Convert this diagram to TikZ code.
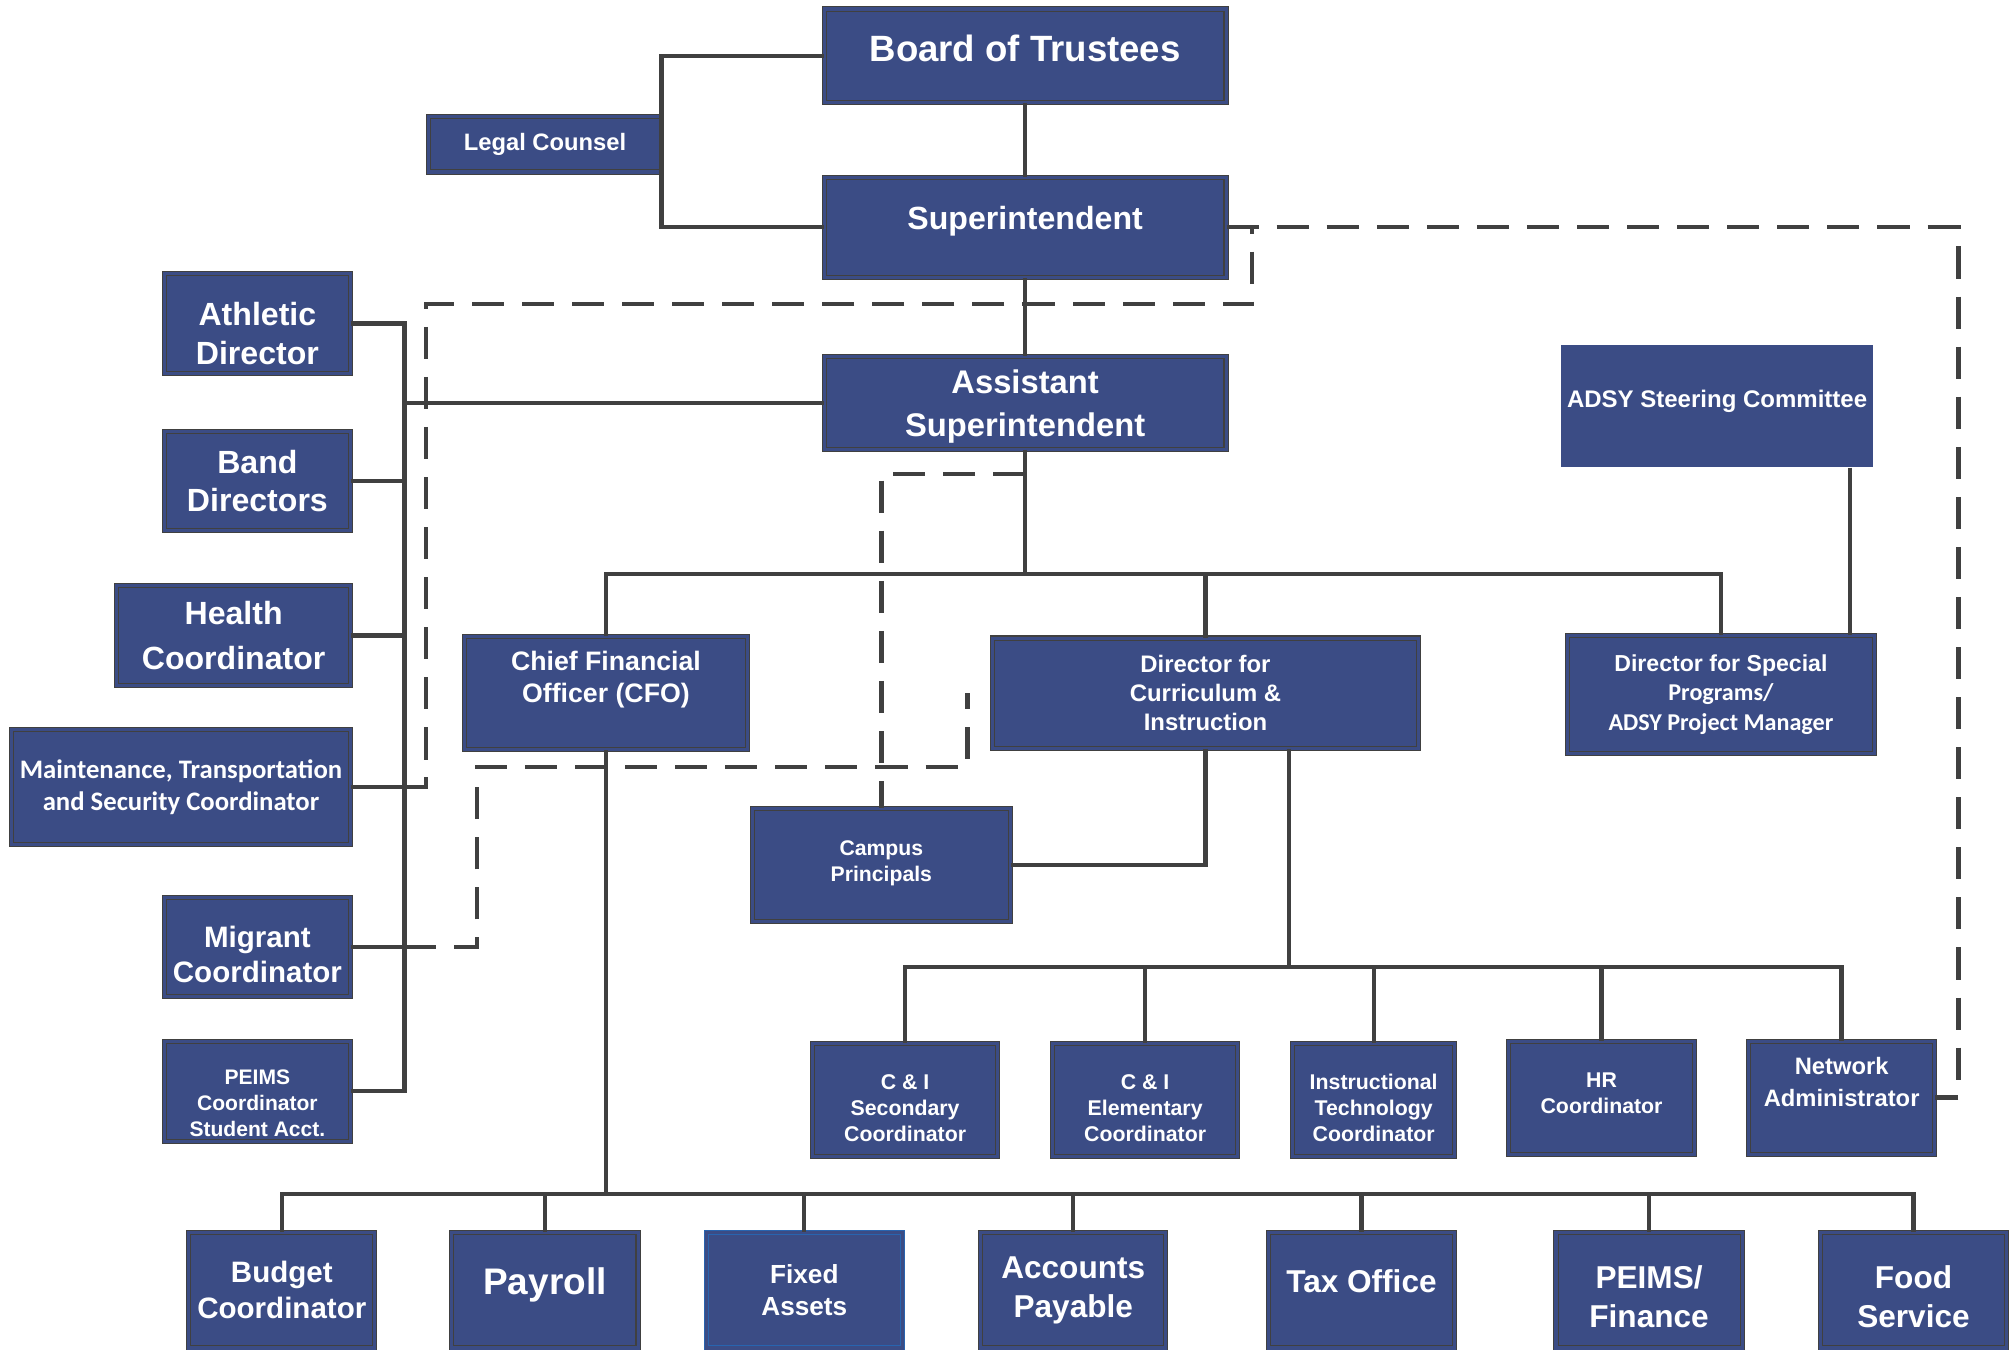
\documentclass[tikz,border=0pt]{standalone}
\usepackage{fontspec}
\setmainfont{Liberation Sans}
\newfontfamily\calib{Carlito}
\usetikzlibrary{calc}
\definecolor{boxfill}{RGB}{59,76,133}
\definecolor{boxline}{RGB}{64,64,64}
\definecolor{linegray}{RGB}{64,64,64}
\definecolor{fixedblue}{RGB}{40,100,175}
\newcommand{\fsz}[2]{\fontsize{#1}{#2}\selectfont\bfseries}
\newcommand{\lift}[1]{\rule[-#1]{0pt}{#1}}% push text up
\newcommand{\drop}[1]{\rule{0pt}{#1}}% push text down
\tikzset{
	unit/.style={fill=boxfill, draw=boxline, double=boxfill, double distance=2.4pt, line width=0.8pt, text=white, align=center, inner sep=1pt},
	bare/.style={fill=boxfill, text=white, align=center, inner sep=1pt},
	boxdim/.style 2 args={minimum width=#1pt-4pt, minimum height=#2pt-4pt},
	conn/.style={draw=linegray, line width=3.4pt},
	dashl/.style={draw=linegray, line width=3.4pt, dash pattern=on 25pt off 14pt},
}

\begin{document}
\begin{tikzpicture}[x=1pt,y=-1pt]
	\useasboundingbox (0,0) rectangle (1568,1051);
	% top
	\node[unit, boxdim={317}{77}, font=\fsz{28.5}{34}] (board) at (798.5,43.5) {Board of Trustees\lift{12pt}};
	\node[unit, boxdim={317}{82}, font=\fsz{25}{30}] (supt) at (798.5,177) {Superintendent\lift{14pt}};
	\node[unit, boxdim={185}{47}, font=\fsz{18.5}{22}] (legal) at (424.5,112.5) {Legal Counsel};
	\node[unit, boxdim={317}{76}, font=\fsz{25.5}{34}] (asst) at (798.5,314) {\drop{24pt}Assistant\\Superintendent};
	% left column
	\node[unit, boxdim={149}{82}, font=\fsz{25}{30}] (athletic) at (200.5,252) {\drop{34pt}Athletic\\Director};
	\node[unit, boxdim={149}{81}, font=\fsz{25}{30}] (band) at (200.5,374.5) {Band\\Directors};
	\node[unit, boxdim={186}{82}, font=\fsz{25}{35}] (health) at (182,495) {Health\\Coordinator};
	\node[unit, boxdim={268}{94}, font=\calib\fsz{20.8}{25}] (maint) at (141,613) {Maintenance, Transportation\\and Security Coordinator};
	\node[unit, boxdim={149}{81}, font=\fsz{23}{27}] (migrant) at (200.5,737.5) {\drop{28.5pt}Migrant\\Coordinator};
	\node[unit, boxdim={149}{82}, font=\fsz{16.4}{20}] (peimsst) at (200.5,850) {\drop{30pt}PEIMS\\Coordinator\\Student Acct.};
	% middle
	\node[unit, boxdim={224}{92}, font=\fsz{20.8}{25}] (cfo) at (472,540) {Chief Financial\\Officer (CFO)\lift{25pt}};
	\node[unit, boxdim={336}{90}, font=\fsz{18.6}{22.5}] (dci) at (939,540) {Director for\\Curriculum \&\\Instruction};
	\node[unit, boxdim={243}{96}, font=\fsz{18}{23}] (dsp) at (1340.5,541) {Director for Special\\{\calib\fsz{18.8}{23}Programs/}\\{\calib\fsz{18.8}{23}ADSY Project Manager}};
	\node[bare, minimum width=243pt, minimum height=95pt, font=\fsz{18.7}{22}] (adsy) at (1337.5,316.5) {ADSY Steering Committee\lift{12pt}};
	\node[unit, boxdim={205}{92}, font=\fsz{16.5}{20}] (campus) at (686.5,674) {Campus\\Principals\lift{7pt}};
	% curriculum row
	\node[unit, boxdim={148}{92}, font=\fsz{16.6}{20}] (cisec) at (705,857) {\drop{24pt}C \& I\\Secondary\\Coordinator};
	\node[unit, boxdim={148}{92}, font=\fsz{16.6}{20}] (ciel) at (892,857) {\drop{24pt}C \& I\\Elementary\\Coordinator};
	\node[unit, boxdim={130}{92}, font=\fsz{16.6}{20}] (instr) at (1070,857) {\drop{24pt}Instructional\\Technology\\Coordinator};
	\node[unit, boxdim={149}{92}, font=\fsz{16.6}{20}] (hr) at (1247.5,855) {HR\\Coordinator\lift{7pt}};
	\node[unit, boxdim={149}{92}, font=\fsz{18.5}{25}] (network) at (1434.5,855) {Network\\Administrator\lift{25pt}};
	% finance row
	\node[unit, boxdim={149}{94}, font=\fsz{23}{28}] (budget) at (219.5,1005) {Budget\\Coordinator};
	\node[unit, boxdim={149}{94}, font=\fsz{28.8}{34}] (payroll) at (424.5,1005) {Payroll\lift{15pt}};
	\node[unit, draw=fixedblue, boxdim={157}{94}, font=\fsz{20.4}{25}] (fixed) at (626.5,1005) {Fixed\\Assets};
	\node[unit, boxdim={148}{94}, font=\fsz{24.6}{30}] (ap) at (836,1005) {Accounts\\Payable};
	\node[unit, boxdim={149}{94}, font=\fsz{24.6}{30}] (tax) at (1060.5,1005) {Tax Office\lift{15pt}};
	\node[unit, boxdim={149}{94}, font=\fsz{24.6}{30}] (peimsfin) at (1284.5,1005) {\drop{28pt}PEIMS/\\Finance};
	\node[unit, boxdim={149}{94}, font=\fsz{24.6}{30}] (food) at (1490.5,1005) {\drop{28pt}Food\\Service};
	% buses
	\coordinate (lbus) at (315,0);
	\coordinate (tbus) at (0,447);
	\coordinate (cbus) at (0,753);
	\coordinate (bbus) at (0,930);
	\coordinate (dcifoot) at ($(dci.south)+(65,0)$);
	\coordinate (adsyfoot) at ($(adsy.south east)+(-18,0)$);
	\coordinate (mjoin) at (maint.east -| lbus);
	% solid lines
	\draw[conn] (board.west) -| (legal.east |- supt.west) -- (supt.west);
	\draw[conn] (board.south) -- (supt.north);
	\draw[conn] (supt.south) -- (asst.north);
	\draw[conn] (athletic.east) -| (lbus |- peimsst.east) -- (peimsst.east);
	\foreach \n in {band,health,maint,migrant}
		\draw[conn] (\n.east) -- (\n.east -| lbus);
	\draw[conn] (asst.west) -- (asst.west -| lbus);
	\draw[conn] (asst.south) -- (asst.south |- tbus);
	\draw[conn] (cfo.north) |- (dsp.north |- tbus) -- (dsp.north);
	\draw[conn] (dci.north) -- (dci.north |- tbus);
	\draw[conn] (adsyfoot) -- (adsyfoot |- dsp.north);
	\draw[conn] (dci.south) |- (campus.east);
	\draw[conn] (dcifoot) -- (dcifoot |- cbus);
	\draw[conn] (cisec.north) |- (network.north |- cbus) -- (network.north);
	\foreach \n in {ciel,instr,hr}
		\draw[conn] (\n.north) -- (\n.north |- cbus);
	\draw[conn] (cfo.south) -- (cfo.south |- bbus);
	\draw[conn] (budget.north) |- (food.north |- bbus) -- (food.north);
	\foreach \n in {payroll,fixed,ap,tax,peimsfin}
		\draw[conn] (\n.north) -- (\n.north |- bbus);
	% dashed lines
	\draw[dashl] (supt.east) -| ($(supt.east)+(20,60)$) -| ($(mjoin)+(17,0)$) -- (mjoin);
	\draw[dashl] (supt.east) -| ($(network.east)+(18,0)$) -- (network.east);
	\draw[dashl] ($(asst.south)+(0,19)$) -| (campus.north);
	\draw[dashl] (migrant.east -| lbus) -| ($(cfo.south west)+(10,13)$) -| ($(dci.west)+(-19,0)$);
\end{tikzpicture}
\end{document}
